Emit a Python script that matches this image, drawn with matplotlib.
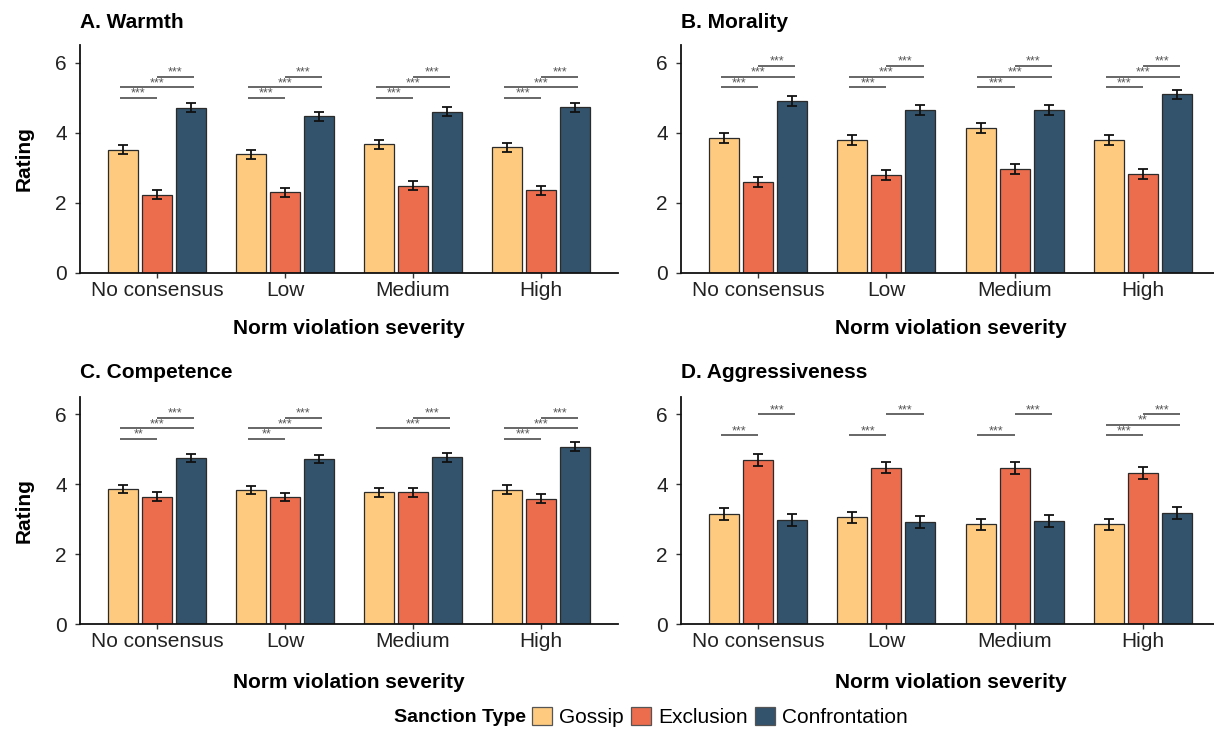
import matplotlib
matplotlib.use("Agg")
import matplotlib.pyplot as plt
from matplotlib.patches import Patch

plt.rcParams["font.family"] = ["Liberation Sans", "DejaVu Sans"]

# ---- data -------------------------------------------------------------
categories = ["No consensus", "Low", "Medium", "High"]
sanctions = ["Gossip", "Exclusion", "Confrontation"]
colors = ["#FDCA80", "#EC6C4E", "#33526B"]

warmth_gossip = [3.51, 3.39, 3.67, 3.58]
warmth_exclusion = [2.23, 2.30, 2.49, 2.36]
warmth_confrontation = [4.71, 4.47, 4.60, 4.73]
warmth_se = [0.13, 0.13, 0.13]

morality_gossip = [3.85, 3.79, 4.13, 3.80]
morality_exclusion = [2.60, 2.79, 2.97, 2.82]
morality_confrontation = [4.90, 4.64, 4.64, 5.09]
morality_se = [0.14, 0.14, 0.14]

competence_gossip = [3.86, 3.84, 3.77, 3.85]
competence_exclusion = [3.65, 3.63, 3.77, 3.59]
competence_confrontation = [4.75, 4.72, 4.77, 5.08]
competence_se = [0.12, 0.12, 0.12]

aggressiveness_gossip = [3.15, 3.05, 2.85, 2.85]
aggressiveness_exclusion = [4.69, 4.48, 4.47, 4.33]
aggressiveness_confrontation = [2.97, 2.92, 2.96, 3.18]
aggressiveness_se = [0.17, 0.17, 0.17]

# pairwise comparisons: (category index, group a, group b, label, bracket height)
warmth_sig = [(c, a, b, "***", h) for c in range(4)
              for a, b, h in [(0, 1, 5.0), (0, 2, 5.3), (1, 2, 5.6)]]
morality_sig = [(c, a, b, "***", h) for c in range(4)
                for a, b, h in [(0, 1, 5.3), (0, 2, 5.6), (1, 2, 5.9)]]
competence_sig = [
    (0, 0, 1, "**", 5.3), (0, 0, 2, "***", 5.6), (0, 1, 2, "***", 5.9),
    (1, 0, 1, "**", 5.3), (1, 0, 2, "***", 5.6), (1, 1, 2, "***", 5.9),
    (2, 0, 2, "***", 5.6), (2, 1, 2, "***", 5.9),
    (3, 0, 1, "***", 5.3), (3, 0, 2, "***", 5.6), (3, 1, 2, "***", 5.9),
]
aggressiveness_sig = [
    (0, 0, 1, "***", 5.4), (0, 1, 2, "***", 6.0),
    (1, 0, 1, "***", 5.4), (1, 1, 2, "***", 6.0),
    (2, 0, 1, "***", 5.4), (2, 1, 2, "***", 6.0),
    (3, 0, 1, "***", 5.4), (3, 0, 2, "**", 5.7), (3, 1, 2, "***", 6.0),
]

panels = [
    ("A. Warmth", [warmth_gossip, warmth_exclusion, warmth_confrontation], warmth_se, warmth_sig),
    ("B. Morality", [morality_gossip, morality_exclusion, morality_confrontation], morality_se, morality_sig),
    ("C. Competence", [competence_gossip, competence_exclusion, competence_confrontation], competence_se, competence_sig),
    ("D. Aggressiveness", [aggressiveness_gossip, aggressiveness_exclusion, aggressiveness_confrontation],
     aggressiveness_se, aggressiveness_sig),
]

# ---- layout -----------------------------------------------------------
W, H = 1214, 729
fig = plt.figure(figsize=(W / 100, H / 100), dpi=100)

def px_axes(left, right, top, bottom):
    return fig.add_axes([left / W, 1 - bottom / H, (right - left) / W, (bottom - top) / H])

boxes = [(80, 618, 45, 273), (681, 1220, 45, 273),
         (80, 618, 397, 624), (681, 1220, 397, 624)]
title_y = [22, 22, 373, 373]
xlabel_y = [328, 328, 682, 682]

bar_offsets = [-0.265, 0.0, 0.265]
bracket_offsets = [-0.29, 0.0, 0.29]
bar_width = 0.235
fs = 15

for k, ((title, series, se, sig), box) in enumerate(zip(panels, boxes)):
    ax = px_axes(*box)
    xs = list(range(1, len(categories) + 1))
    for g, vals in enumerate(series):
        pos = [x + bar_offsets[g] for x in xs]
        ax.bar(pos, vals, width=bar_width, color=colors[g], edgecolor="#2b2b2b",
               linewidth=0.9, zorder=2)
        ax.errorbar(pos, vals, yerr=se[g], fmt="none", ecolor="#111111",
                    elinewidth=1.3, capsize=3.5, capthick=1.3, zorder=3)

    for c, a, b, lab, h in sig:
        x0 = xs[c] + bracket_offsets[a]
        x1 = xs[c] + bracket_offsets[b]
        ax.plot([x0, x1], [h, h], color="#666666", lw=1.4, solid_capstyle="butt", zorder=3)
        ax.annotate(lab, xy=((x0 + x1) / 2, h), xytext=(0, 0.8), textcoords="offset points",
                    ha="center", va="baseline", fontsize=9, color="#555555")

    ax.set_xlim(0.4, 4.6)
    ax.set_ylim(0, 6.5)
    ax.set_xticks(xs)
    ax.set_xticklabels(categories)
    ax.set_yticks([0, 2, 4, 6])
    for side in ("top", "right"):
        ax.spines[side].set_visible(False)
    for side in ("left", "bottom"):
        ax.spines[side].set_linewidth(1.3)
        ax.spines[side].set_color("#111111")
    ax.tick_params(axis="both", length=3.5, width=1.0, color="#333333",
                   labelsize=fs, labelcolor="#222222")
    ax.tick_params(axis="x", pad=2)
    ax.tick_params(axis="y", pad=6)

    left, right, top, bottom = box
    fig.text(left / W, 1 - title_y[k] / H, title, fontsize=fs, fontweight="bold",
             ha="left", va="center")
    fig.text((left + right) / 2 / W, 1 - xlabel_y[k] / H, "Norm violation severity",
             fontsize=fs, fontweight="bold", ha="center", va="center")
    if k % 2 == 0:
        fig.text(24 / W, 1 - (top + bottom) / 2 / H, "Rating", fontsize=fs, fontweight="bold",
                 rotation=90, ha="center", va="center")

# ---- legend -----------------------------------------------------------
fig.text(394 / W, 1 - 717 / H, "Sanction Type", fontsize=14, fontweight="bold",
         ha="left", va="center")
handles = [Patch(facecolor=c, edgecolor="#555555", linewidth=0.9) for c in colors]
fig.legend(handles, sanctions, loc="center left", bbox_to_anchor=(532 / W, 1 - 717 / H),
           ncol=3, frameon=False, fontsize=fs, handlelength=0.95, handleheight=0.95,
           handletextpad=0.35, columnspacing=0.35, borderpad=0, borderaxespad=0)

fig.savefig("out.png", dpi=100)
